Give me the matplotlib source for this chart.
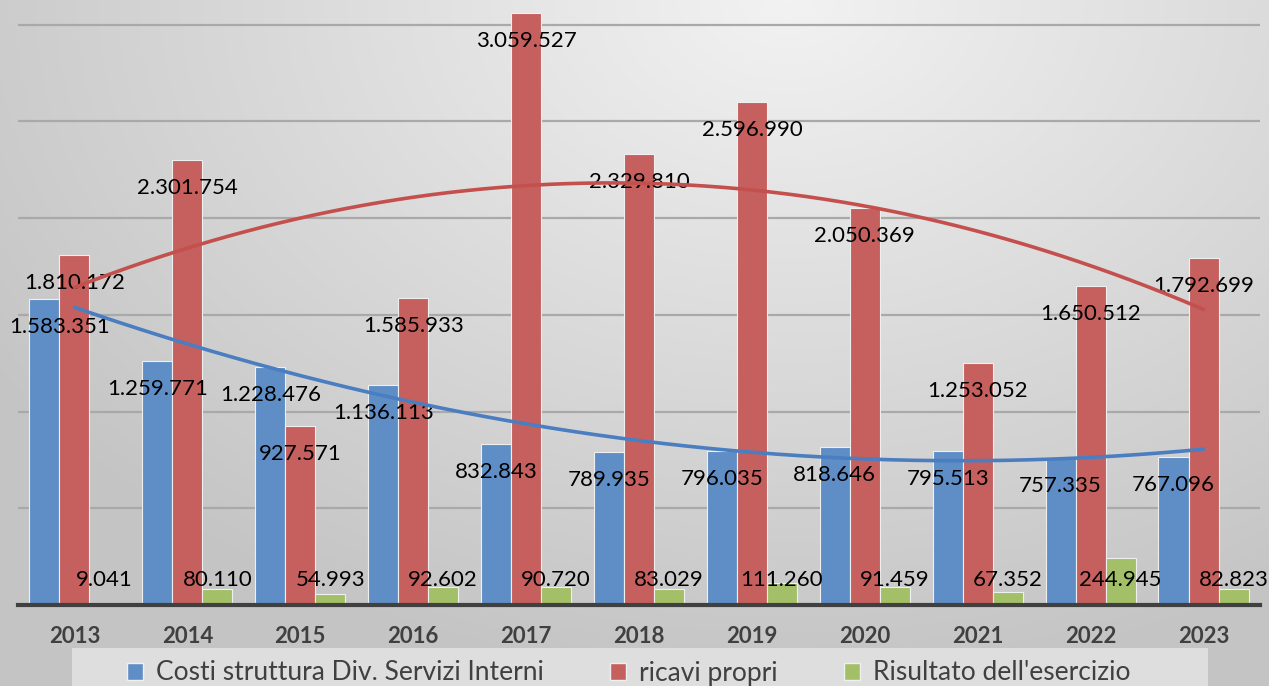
import numpy as np
import matplotlib
matplotlib.use("Agg")
import matplotlib.pyplot as plt
from matplotlib.patches import Patch, Rectangle

# dati
anni = ['2013', '2014', '2015', '2016', '2017', '2018', '2019', '2020', '2021', '2022', '2023']
costi = [1583351, 1259771, 1228476, 1136113, 832843, 789935, 796035, 818646, 795513, 757335, 767096]
ricavi = [1810172, 2301754, 927571, 1585933, 3059527, 2329810, 2596990, 2050369, 1253052, 1650512, 1792699]
risultato = [9041, 80110, 54993, 92602, 90720, 83029, 111260, 91459, 67352, 244945, 82823]
nomi = ['Costi struttura Div. Servizi Interni', 'ricavi propri', "Risultato dell'esercizio"]

colori = ['#5f8ec6', '#c5605e', '#a3c068']
colori_trend = ['#4a7ec0', '#c4504e']

W, H = 1269, 686
fig = plt.figure(figsize=(W / 100, H / 100), dpi=100)

# sfondo sfumato
bg = fig.add_axes([0, 0, 1, 1], zorder=-10)
yy, xx = np.mgrid[0:H, 0:W]
d = np.sqrt(((xx - 0.62 * W) / W) ** 2 + ((yy - 0.0) / H * 0.75) ** 2)
d = np.clip(d / 0.75, 0, 1)
c0, c1 = 0.95, 0.77
img = c0 + (c1 - c0) * d
bg.imshow(np.dstack([img, img, img]), aspect='auto', extent=[0, 1, 0, 1])
bg.axis('off')

# box legenda
fig.patches.append(Rectangle((72 / W, -0.05), (1208 - 72) / W, (H - 648) / H + 0.05,
                             transform=fig.transFigure, facecolor='#dedede',
                             edgecolor='none', zorder=-5))

ax = fig.add_axes([18 / W, 81 / H, (1260 - 18) / W, 605 / H])
ax.set_facecolor('none')

x = np.arange(len(anni))
bw = 0.266
serie = [costi, ricavi, risultato]
for i, vals in enumerate(serie):
    pos = x + (i - 1) * bw
    ax.bar(pos, vals, width=bw, color=colori[i], edgecolor='#eef0f0', linewidth=0.8, zorder=3)

# etichette
fmt = lambda v: f"{v:,}".replace(',', '.')
for i, vals in enumerate(serie):
    for j, v in enumerate(vals):
        xp = x[j] + (i - 1) * bw
        if i == 2:
            ax.annotate(fmt(v), (xp, 0), xytext=(0, 25), textcoords='offset pixels',
                        ha='center', va='center', fontsize=16, family='Lato', color='black', zorder=5)
        else:
            dx = 15 if (i == 0 and j == 0) else 0
            ax.annotate(fmt(v), (xp, v), xytext=(dx, -28), textcoords='offset pixels',
                        ha='center', va='center', fontsize=16, family='Lato', color='black', zorder=5)

# linee di tendenza (polinomiale 2)
xs = np.linspace(0, len(anni) - 1, 200)
for i, vals in enumerate([costi, ricavi]):
    p = np.polyfit(x, vals, 2)
    ax.plot(xs, np.polyval(p, xs), color=colori_trend[i], lw=2.6, zorder=6, solid_capstyle='round')

ax.set_xlim(-0.5, len(anni) - 0.5)
ax.set_ylim(0, 605 / 193.5 * 1e6)
ax.set_yticks(np.arange(500000, 3000001, 500000))
ax.yaxis.grid(True, color='#a9a9a9', lw=1.6, zorder=0)
ax.set_axisbelow(True)
for s in ['top', 'right', 'left']:
    ax.spines[s].set_visible(False)
ax.spines['bottom'].set_color('#404040')
ax.spines['bottom'].set_linewidth(3)
ax.spines['bottom'].set_zorder(7)
ax.tick_params(axis='y', left=False, labelleft=False)
ax.tick_params(axis='x', length=0, pad=15)
ax.set_xticks(x)
ax.set_xticklabels(anni, fontsize=16, fontweight='bold', family='Lato', color='#404040')

handles = [Patch(facecolor=colori[i], edgecolor='#eef0f0', label=nomi[i]) for i in range(3)]
fig.legend(handles=handles, loc='center left', bbox_to_anchor=(114 / W, 1 - 673 / H),
           ncol=3, frameon=False, prop={'family': 'Lato', 'size': 19},
           labelcolor='#404040', handlelength=0.6, handleheight=0.6,
           handletextpad=0.5, columnspacing=2.5, borderpad=0)

fig.savefig('out.png', dpi=100)
